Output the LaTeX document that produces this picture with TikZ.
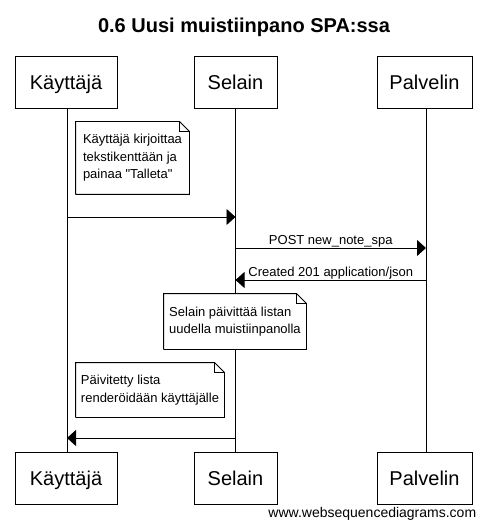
\documentclass[tikz,border=0pt]{standalone}
\usepackage{fontspec}
\setmainfont{Liberation Sans}
\usetikzlibrary{arrows.meta}
\begin{document}
\begin{tikzpicture}[x=1pt, y=-1pt, line width=0.9pt, line join=miter, >={Triangle[length=9pt,width=16pt]},
	actor/.style={draw, minimum height=52pt, inner sep=0pt, text height=14.5pt, text depth=0pt, font=\fontsize{20}{24}\selectfont},
	note/.style={align=left, inner sep=0pt, font=\fontsize{13}{17.5}\selectfont},
	msg/.style={midway, anchor=base, yshift=3.5pt, inner sep=0pt, font=\fontsize{13}{15}\selectfont}]
	\useasboundingbox (0,0) rectangle (488,529);
	\node[anchor=base, font=\bfseries\fontsize{20}{24}\selectfont] (title) at (244,33) {0.6 Uusi muistiinpano SPA:ssa};
	% osapuolet
	\node[actor, minimum width=102pt] (kt) at (66,82) {Käyttäjä};
	\node[actor, minimum width=83pt] (st) at (235.5,82) {Selain};
	\node[actor, minimum width=95pt] (pt) at (424.5,82) {Palvelin};
	\node[actor, minimum width=102pt] (kb) at (66,478) {Käyttäjä};
	\node[actor, minimum width=83pt] (sb) at (235.5,478) {Selain};
	\node[actor, minimum width=95pt] (pb) at (424.5,478) {Palvelin};
	\draw ([xshift=1pt]kt.south) -- ([xshift=1pt]kb.north);
	\draw (st) -- (sb);
	\draw ([xshift=1.5pt]pt.south) -- ([xshift=1.5pt]pb.north);
	% viestit
	\coordinate (k1) at (67,217); \coordinate (s1) at (235.5,217);
	\coordinate (s2) at (235.5,248); \coordinate (p2) at (426,248);
	\coordinate (p3) at (426,280); \coordinate (s3) at (235.5,280);
	\coordinate (s4) at (235.5,438); \coordinate (k4) at (67,438);
	\draw[->] (k1) -- (s1);
	\draw[->] (s2) -- (p2) node[msg]{POST new\_note\_spa};
	\draw[->] (p3) -- (s3) node[msg]{Created 201 application/json};
	\draw[->] (s4) -- (k4);
	% muistiinpanot
	\node[note, minimum width=113pt, minimum height=72pt, fill=white] (n1) at (132.5,158) {Käyttäjä kirjoittaa\\tekstikenttään ja\\painaa \textquotedbl Talleta\textquotedbl};
	\node[note, minimum width=142pt, minimum height=55pt, fill=white] (n2) at (235,321.5) {Selain päivittää listan\\uudella muistiinpanolla};
	\node[note, minimum width=148pt, minimum height=54pt, fill=white] (n3) at (150,390) {Päivitetty lista\\renderöidään käyttäjälle};
	\foreach \n in {n1,n2,n3}{
		\draw (\n.south west) |- ([xshift=-10pt]\n.north east) -- ([yshift=-10pt]\n.north east) |- (\n.south west);
		\draw[line width=0.6pt] ([xshift=-10pt]\n.north east) |- ([yshift=-10pt]\n.north east);
	}
	\node[anchor=base east, font=\fontsize{14}{16}\selectfont] (web) at (480,517) {www.websequencediagrams.com};
\end{tikzpicture}
\end{document}
